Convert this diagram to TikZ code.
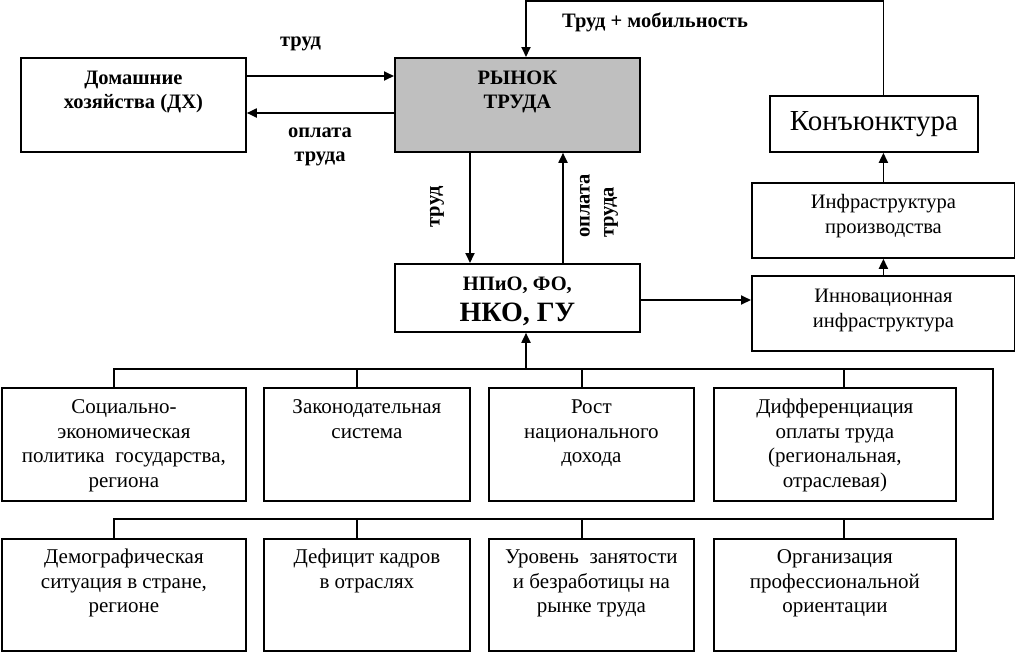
\documentclass[tikz,border=0pt]{standalone}
\usepackage{fontspec}
\setmainfont{Liberation Serif}
\usetikzlibrary{arrows.meta,calc}
\newcommand{\tb}[4]{\parbox[c][#2][t]{#1}{\centering\vspace*{#3}\strut #4\par}}
\tikzset{
  bx/.style={draw, line width=1.8pt, inner sep=0pt, anchor=north west},
  ln/.style={line width=1.8pt},
  arr/.style={line width=1.8pt, -{Triangle[length=10pt,width=9pt]}},
  lbl/.style={inner sep=0pt, font=\fontsize{20.5}{24}\selectfont\bfseries},
  bold/.style={font=\fontsize{20.5}{24}\selectfont\bfseries},
  small/.style={font=\fontsize{21}{24.5}\selectfont},
  mid/.style={font=\fontsize{20.5}{25}\selectfont},
}
\begin{document}
\begin{tikzpicture}[x=1pt,y=-1pt]
\useasboundingbox (0,0) rectangle (1015,651);
% top boxes
\node[bx,bold] (dx) at (20,57) {\tb{225pt}{94pt}{9.5pt}{Домашние\\хозяйства (ДХ)}};
\node[bx,bold,fill=black!25] (r) at (394,57) {\tb{245pt}{94pt}{10pt}{РЫНОК\\ТРУДА}};
\node[bx,bold] (n) at (394,263) {\parbox[c][68pt][t]{245pt}{\centering\vspace*{9.5pt}\strut НПиО, ФО,\par{\fontsize{28}{31.5}\selectfont НКО, ГУ\par}}};
\node[bx,font=\fontsize{29}{30}\selectfont,minimum width=208pt,minimum height=56pt] (k) at (769,95) {Конъюнктура};
\node[bx,mid] (inf) at (751,182) {\tb{263pt}{75pt}{8pt}{Инфраструктура\\производства}};
\node[bx,mid] (inn) at (751,275) {\tb{263pt}{75pt}{9pt}{Инновационная\\инфраструктура}};
% bottom boxes row 1
\node[bx,small] (c1) at (1,387) {\tb{244pt}{113pt}{8.5pt}{Социально-\\экономическая\\политика\ \ государства,\\региона}};
\node[bx,small] (c2) at (263,387) {\tb{206pt}{113pt}{8.5pt}{Законодательная\\система}};
\node[bx,small] (c3) at (488,387) {\tb{205pt}{113pt}{8.5pt}{Рост\\национального\\дохода}};
\node[bx,small] (c4) at (713,387) {\tb{242pt}{113pt}{8.5pt}{Дифференциация\\оплаты труда\\(региональная,\\отраслевая)}};
% bottom boxes row 2
\node[bx,small] (d1) at (1,538) {\tb{244pt}{112pt}{7.5pt}{Демографическая\\ситуация в стране,\\регионе}};
\node[bx,small] (d2) at (263,538) {\tb{206pt}{112pt}{7.5pt}{Дефицит кадров\\в отраслях}};
\node[bx,small] (d3) at (488,538) {\tb{205pt}{112pt}{7.5pt}{Уровень\ \ занятости\\и безработицы на\\рынке труда}};
\node[bx,small] (d4) at (713,538) {\tb{242pt}{112pt}{7.5pt}{Организация\\профессиональной\\ориентации}};
% labels
\node[lbl,anchor=base] (l1) at (300.5,46.7) {труд};
\node[lbl,align=center] (l2) at (320,147) {оплата\\труда};
\node[lbl,rotate=90] (l3) at (437,207) {труд};
\node[lbl,rotate=90,align=left,anchor=west] (l4) at (599,238) {оплата\\труда};
\node[lbl,anchor=base] (l5) at (655,27.7) {Труд + мобильность};
% connectors
\draw[arr] ([yshift=-19pt]dx.north east) -- ([yshift=-19pt]r.north west);
\draw[arr] ([yshift=-56pt]r.north west) -- ([yshift=-56pt]dx.north east);
\draw[arr] ([xshift=76pt]r.south west) -- ([xshift=76pt]n.north west);
\draw[arr] ([xshift=169pt]n.north west) -- ([xshift=169pt]r.south west);
\coordinate (nE) at ([yshift=-37pt]n.north east);
\draw[arr] (nE) -- (nE -| inn.west);
\draw[arr] (inn.north) -- (inf.south);
\draw[arr] (inf.north) -- (inf.north |- k.south);
\draw[arr] (inf.north |- k.north) -- ++(0,-94) -| ([xshift=132pt]r.north west);
% bus
\coordinate (busL) at (113,369);
\coordinate (busR) at (993,369);
\coordinate (busN) at (526,369);
\coordinate (bus2L) at (113,519);
\coordinate (bus2R) at (993,519);
\draw[ln] (busL) -- (busR) -- (bus2R) -- (bus2L);
\draw[arr] (busN) -- (busN |- n.south);
\draw[ln] ([xshift=-10pt]c1.north) -- ([xshift=-10pt]c1.north |- busL);
\draw[ln] ([xshift=-10pt]c2.north) -- ([xshift=-10pt]c2.north |- busL);
\draw[ln] ([xshift=-9.5pt]c3.north) -- ([xshift=-9.5pt]c3.north |- busL);
\draw[ln] ([xshift=9pt]c4.north) -- ([xshift=9pt]c4.north |- busL);
\draw[ln] ([xshift=-10pt]d1.north) -- ([xshift=-10pt]d1.north |- bus2L);
\draw[ln] ([xshift=-10pt]d2.north) -- ([xshift=-10pt]d2.north |- bus2L);
\draw[ln] ([xshift=-9.5pt]d3.north) -- ([xshift=-9.5pt]d3.north |- bus2L);
\draw[ln] ([xshift=9pt]d4.north) -- ([xshift=9pt]d4.north |- bus2L);
\end{tikzpicture}
\end{document}
